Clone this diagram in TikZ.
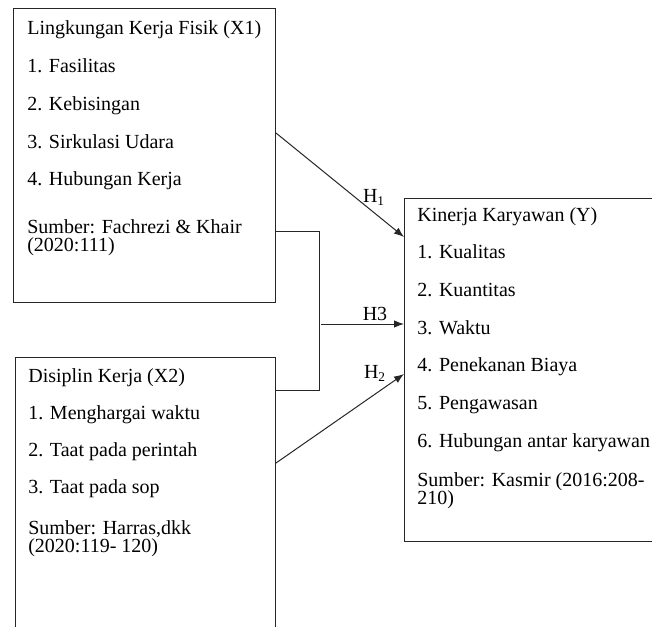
\documentclass[tikz,border=0pt]{standalone}
\usepackage{fontspec}
\setmainfont{Liberation Serif}
\usetikzlibrary{arrows.meta,calc}

\tikzset{
  box/.style={draw=black!85, line width=0.6pt, anchor=north west, inner sep=0pt},
  txt/.style={anchor=base west, inner sep=0pt, font=\fontsize{12}{9.6}\selectfont},
  hlabel/.style={inner sep=0pt, font=\fontsize{12}{9.6}\selectfont},
  link/.style={line width=0.6pt, draw=black!85},
  hyp/.style={link, -{Latex[length=6pt,width=4.5pt]}},
}

\begin{document}
\begin{tikzpicture}[x=0.6pt, y=-0.6pt]
    \useasboundingbox (0,0) rectangle (652,626);
    \clip (0,0) rectangle (652,626);

    % Boxes of the variables
    \node[box, minimum width=157.2pt, minimum height=176.4pt] (x1) at (13,8) {};
    \node[box, minimum width=156pt, minimum height=174pt] (x2) at (15,357) {};
    \node[box, minimum width=162pt, minimum height=205.8pt] (y) at (404,198) {};

    % Lingkungan kerja fisik
    \node[txt] (x1-title) at (27,35) {Lingkungan Kerja Fisik (X1)};
    \foreach \t [count=\i] in {Fasilitas, Kebisingan, Sirkulasi Udara, Hubungan Kerja}
        \node[txt] (x1-\i) at (27,{35+37.7*\i}) {\i. \t};
    \node[txt] (x1-src) at (27,233) {Sumber: Fachrezi \& Khair};
    \node[txt] (x1-year) at (27,251.5) {(2020:111)};

    % Disiplin kerja
    \node[txt] (x2-title) at (28,382) {Disiplin Kerja (X2)};
    \foreach \t [count=\i] in {Menghargai waktu, Taat pada perintah, Taat pada sop}
        \node[txt] (x2-\i) at (28,{382+37*\i}) {\i. \t};
    \node[txt] (x2-src) at (28,534) {Sumber: Harras,dkk};
    \node[txt] (x2-year) at (28,552.5) {(2020:119- 120)};

    % Kinerja karyawan
    \node[txt] (y-title) at (417,221) {Kinerja Karyawan (Y)};
    \foreach \t [count=\i] in {Kualitas, Kuantitas, Waktu, Penekanan Biaya, Pengawasan, Hubungan antar karyawan}
        \node[txt] (y-\i) at (417,{221+37.7*\i}) {\i. \t};
    \node[txt] (y-src) at (417,486) {Sumber: Kasmir (2016:208-};
    \node[txt] (y-year) at (417,504.5) {210)};

    % Bracket joining X1 and X2
    \coordinate (br-t) at (319,231);
    \coordinate (br-b) at (319,390);
    \coordinate (br-m) at (321,324);
    \draw[link] ($(x1.north east)+(0,223)$) -- (br-t) -- (br-b) -- ($(x2.north east)+(0,33)$);

    % Hypotheses
    \draw[hyp] ($(x1.north east)+(0,125)$) -- ($(y.north west)+(0,39)$);
    \draw[hyp] (br-m) -- ($(y.north west)+(0,126)$);
    \draw[hyp] ($(x2.north east)+(0,106)$) -- ($(y.north west)+(0,176)$);

    \node[hlabel] (h1) at (374,197) {H\textsubscript{1}};
    \node[hlabel] (h3) at (375,314) {H3};
    \node[hlabel] (h2) at (375,373) {H\textsubscript{2}};
\end{tikzpicture}
\end{document}
